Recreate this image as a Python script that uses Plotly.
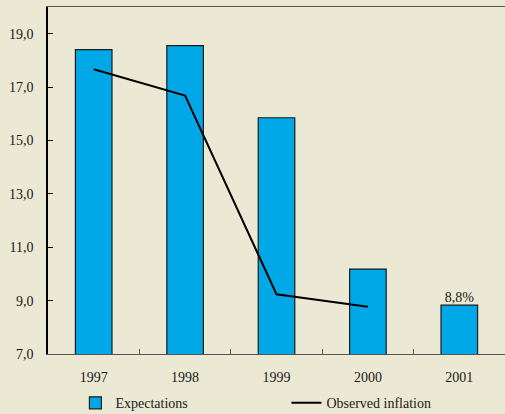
import plotly.graph_objects as go

years = ["1997", "1998", "1999", "2000", "2001"]
expectations = [18.4, 18.55, 15.85, 10.18, 8.83]
observed_years = ["1997", "1998", "1999", "2000"]
observed = [17.67, 16.68, 9.24, 8.77]
label_text = ["8,8%"]
y_ticks = [7, 9, 11, 13, 15, 17, 19]
y_tick_labels = ["7,0", "9,0", "11,0", "13,0", "15,0", "17,0", "19,0"]

bg = "#EBE8D4"
font = dict(family="Liberation Serif, Times New Roman, serif", size=14, color="#1a1a1a")

fig = go.Figure()
fig.add_trace(go.Bar(
    x=years, y=expectations, name="Expectations", width=0.4,
    marker=dict(color="#00A8E8", line=dict(color="#1a1a1a", width=1.2)),
))
fig.add_trace(go.Scatter(
    x=observed_years, y=observed, name="Observed inflation", mode="lines",
    line=dict(color="black", width=2),
))
fig.add_trace(go.Scatter(
    x=years[-1:], y=expectations[-1:], mode="text", text=label_text,
    textposition="top center", textfont=font, showlegend=False, hoverinfo="skip",
))

fig.update_layout(
    width=505, height=414,
    margin=dict(l=48, r=0, t=7, b=60, autoexpand=False),
    paper_bgcolor=bg, plot_bgcolor=bg,
    font=font,
    showlegend=True,
    legend=dict(orientation="h", x=0.06, xanchor="left", y=-0.142, yanchor="middle",
                entrywidth=166, bgcolor="rgba(0,0,0,0)", font=font),
)
fig.update_xaxes(
    type="category", categoryorder="array", categoryarray=years,
    range=[-0.5, len(years) - 0.5],
    showline=True, linecolor="#555", linewidth=1.2, mirror=True,
    ticks="inside", tickson="boundaries", ticklen=5, tickcolor="#555",
    showgrid=False, tickangle=0, ticklabelstandoff=10,
)
fig.update_yaxes(
    range=[7, 20], tickvals=y_ticks, ticktext=y_tick_labels,
    showline=True, linecolor="black", linewidth=1.5, ticks="inside", ticklen=5,
    tickcolor="black", showgrid=False, zeroline=False, ticklabelstandoff=10,
)
fig.write_html("out.html", config={"displayModeBar": False},
               post_script="document.body.style.margin='0';")
